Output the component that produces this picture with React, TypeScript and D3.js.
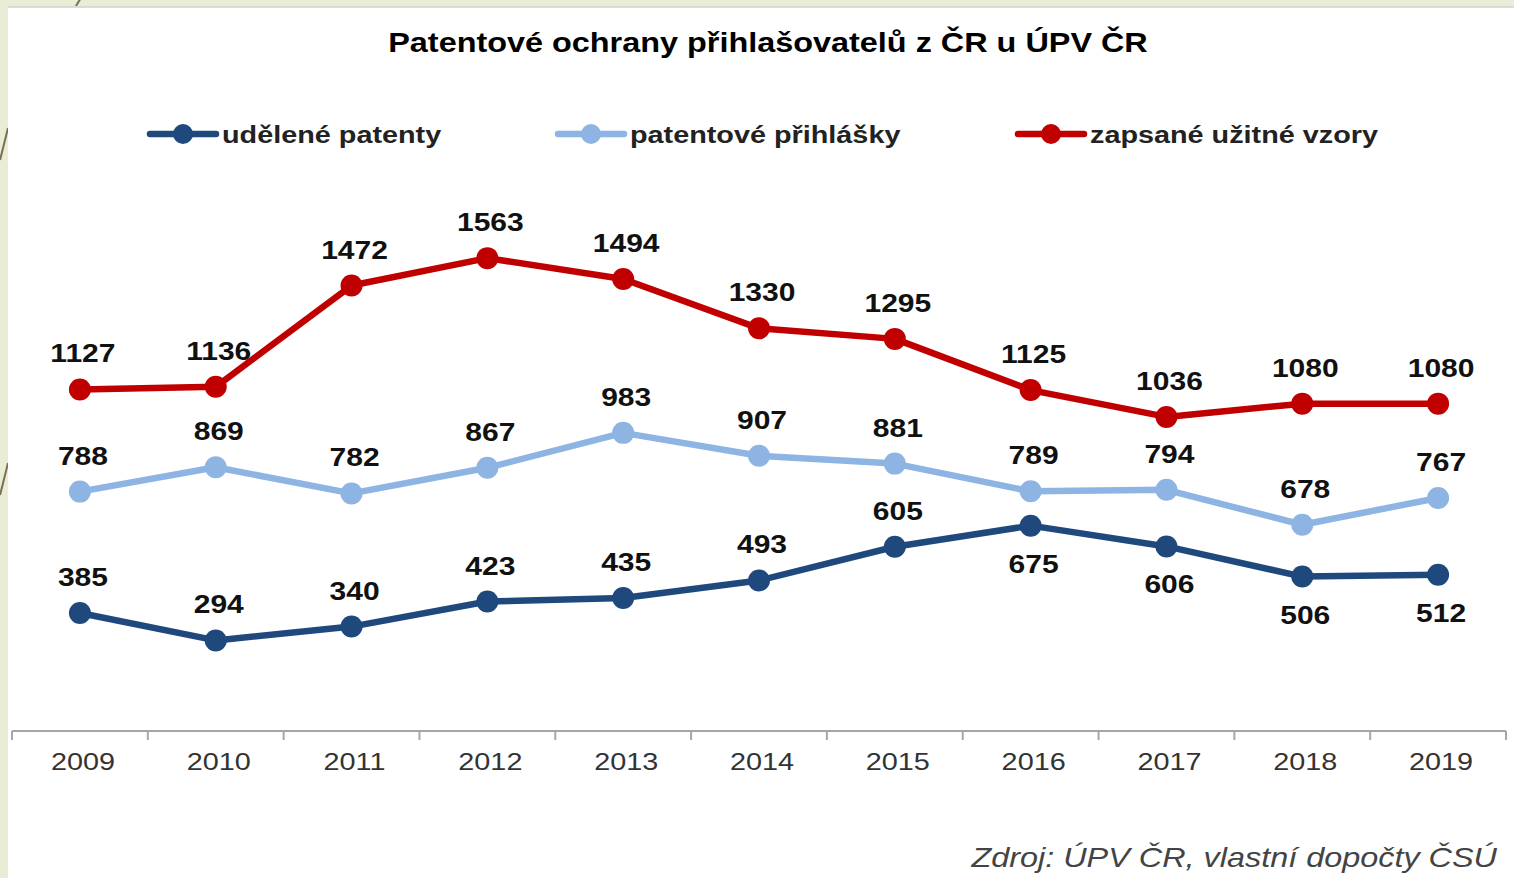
import React from 'react';
import * as d3 from 'd3';

const years = ['2009', '2010', '2011', '2012', '2013', '2014', '2015', '2016', '2017', '2018', '2019'];
const udelenePatenty = [385, 294, 340, 423, 435, 493, 605, 675, 606, 506, 512];
const patentovePrihlasky = [788, 869, 782, 867, 983, 907, 881, 789, 794, 678, 767];
const zapsaneVzory = [1127, 1136, 1472, 1563, 1494, 1330, 1295, 1125, 1036, 1080, 1080];
// which labels of the dark series sit under the point
const udeleneBelow = [false, false, false, false, false, false, false, true, true, true, true];

const W = 1514;
const H = 878;
const SX = 1.2; // the picture is stretched sideways

const series = [
  { name: 'udělené patenty', values: udelenePatenty, color: '#1f497d', below: udeleneBelow, lx: 150 },
  { name: 'patentové přihlášky', values: patentovePrihlasky, color: '#8db4e2', below: null, lx: 558 },
  { name: 'zapsané užitné vzory', values: zapsaneVzory, color: '#c00000', below: null, lx: 1018 },
];

const Txt = ({ x, y, size, anchor = 'middle', weight = 'normal', style = 'normal', fill = '#000', children }: any) => (
  <g transform={`translate(${x},${y}) scale(${SX},1)`}>
    <text
      textAnchor={anchor}
      fontFamily="'Liberation Sans', Arial, sans-serif"
      fontSize={size}
      fontWeight={weight}
      fontStyle={style}
      fill={fill}
    >
      {children}
    </text>
  </g>
);

export default function App() {
  const x = d3.scaleBand().domain(years).range([12, 1506]).padding(0);
  const y = d3.scaleLinear().domain([0, 1600]).range([729, 247]);
  const cx = (d: string) => (x(d) as number) + x.bandwidth() / 2;

  const line = d3
    .line<number>()
    .x((_, i) => cx(years[i]))
    .y((v) => y(v));

  const ticks = [...years.map((d) => x(d) as number), 1506];

  return (
    <svg width={W} height={H} style={{ position: 'fixed', left: 0, top: 0 }}>
      <rect x={0} y={0} width={W} height={H} fill="#e9edd6" />
      <line x1={76} y1={6} x2={82} y2={-4} stroke="#7a7050" strokeWidth={2} />
      <line x1={0} y1={160} x2={8} y2={128} stroke="#7a7050" strokeWidth={2} />
      <line x1={0} y1={495} x2={8} y2={463} stroke="#7a7050" strokeWidth={2} />
      <rect x={8} y={7} width={W - 8} height={H - 7} fill="#fff" />
      <line x1={8} y1={7} x2={W} y2={7} stroke="#d0d0d0" strokeWidth={1.5} />

      <Txt x={768} y={52} size={27} weight="bold">
        Patentové ochrany přihlašovatelů z ČR u ÚPV ČR
      </Txt>

      {series.map((s) => (
        <g key={'lg' + s.name}>
          <line x1={s.lx} y1={134} x2={s.lx + 66} y2={134} stroke={s.color} strokeWidth={6.5} strokeLinecap="round" />
          <circle cx={s.lx + 33} cy={134} r={10} fill={s.color} />
          <Txt x={s.lx + 72} y={143} size={24} weight="bold" anchor="start" fill="#222">
            {s.name}
          </Txt>
        </g>
      ))}

      <line x1={12} y1={731} x2={1506} y2={731} stroke="#a6a6a6" strokeWidth={2} />
      {ticks.map((t, i) => (
        <line key={'t' + i} x1={t} y1={731} x2={t} y2={740} stroke="#a6a6a6" strokeWidth={2} />
      ))}
      {years.map((d) => (
        <Txt key={'yl' + d} x={cx(d) + 3} y={770} size={24} fill="#333">
          {d}
        </Txt>
      ))}

      {series.map((s) => (
        <g key={s.name}>
          <path d={line(s.values) as string} fill="none" stroke={s.color} strokeWidth={6.5} strokeLinejoin="round" />
          {s.values.map((v, i) => (
            <circle key={i} cx={cx(years[i])} cy={y(v)} r={11} fill={s.color} />
          ))}
          {s.values.map((v, i) => {
            const below = s.below ? s.below[i] : false;
            return (
              <Txt key={'l' + i} x={cx(years[i]) + 3} y={y(v) + (below ? 47 : -27)} size={25} weight="bold" fill="#111">
                {v}
              </Txt>
            );
          })}
        </g>
      ))}

      <Txt x={1497} y={867} size={27} style="italic" anchor="end" fill="#444">
        Zdroj: ÚPV ČR, vlastní dopočty ČSÚ
      </Txt>
    </svg>
  );
}
